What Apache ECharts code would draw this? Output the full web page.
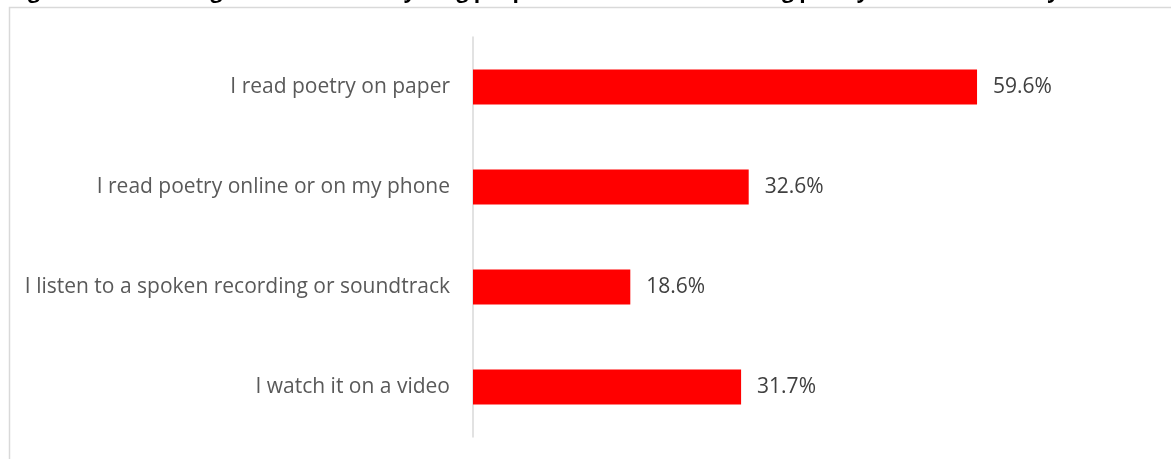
<!DOCTYPE html>
<html>
<head>
<meta charset="utf-8">
<script src="https://cdn.jsdelivr.net/npm/echarts@6/dist/echarts.min.js"></script>
<style>
  html, body { margin: 0; padding: 0; background: #ffffff; }
  #chart { width: 1171px; height: 459px; }
</style>
</head>
<body>
<div id="chart"></div>
<script>
// How young people engage with poetry (share of respondents, %)
const titleText = 'Figure 12: Percentage of children and young people who have been reading poetry in a different way';
const categories = [
  'I read poetry on paper',
  'I read poetry online or on my phone',
  'I listen to a spoken recording or soundtrack',
  'I watch it on a video'
];
const shares = [59.6, 32.6, 18.6, 31.7];

const chart = echarts.init(document.getElementById('chart'), null, { renderer: 'canvas' });

chart.setOption({
  animation: false,
  backgroundColor: '#ffffff',
  graphic: [
    {
      type: 'rect',
      shape: { x: 9.5, y: 7.5, width: 1200, height: 500 },
      style: { fill: 'none', stroke: '#d9d9d9', lineWidth: 1.5 },
      silent: true,
      z: 0
    },
    {
      type: 'text',
      left: 10,
      top: -18,
      style: {
        text: titleText,
        font: 'bold 21px "Open Sans", "Liberation Sans", sans-serif',
        fill: '#000000'
      },
      z: 10
    }
  ],
  grid: { left: 473, top: 37, width: 592, height: 400, containLabel: false },
  xAxis: {
    type: 'value',
    min: 0,
    max: 70,
    show: false
  },
  yAxis: {
    type: 'category',
    data: categories,
    inverse: true,
    axisLine: { show: true, lineStyle: { color: '#d9d9d9', width: 1.5 } },
    axisTick: { show: false },
    axisLabel: {
      margin: 23,
      color: '#595959',
      fontFamily: '"Open Sans", "Liberation Sans", sans-serif',
      fontSize: 21
    },
    splitLine: { show: false }
  },
  series: [
    {
      type: 'bar',
      data: shares,
      barWidth: 35,
      itemStyle: { color: '#ff0000' },
      label: {
        show: true,
        position: 'right',
        distance: 16,
        formatter: (p) => p.value.toFixed(1) + '%',
        color: '#404040',
        fontFamily: '"Open Sans", "Liberation Sans", sans-serif',
        fontSize: 21
      }
    }
  ]
});
</script>
</body>
</html>
